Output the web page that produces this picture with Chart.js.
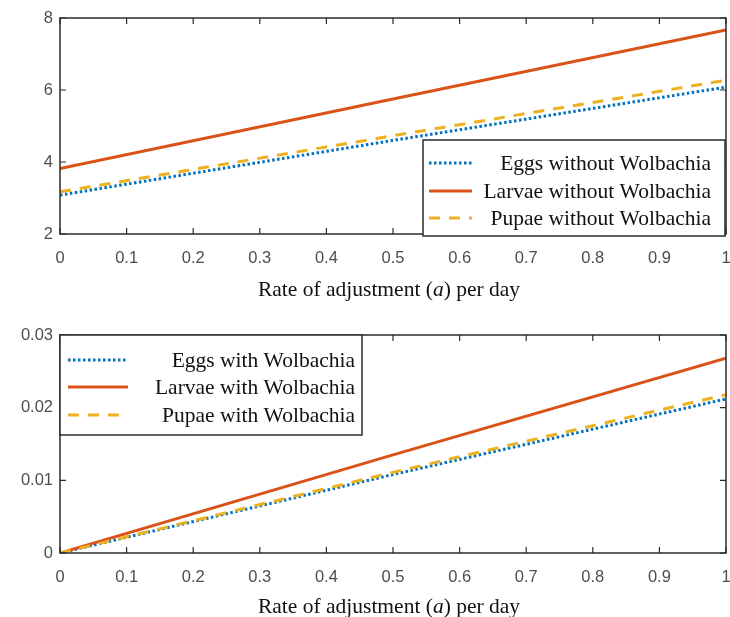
<!DOCTYPE html>
<html>
<head>
<meta charset="utf-8">
<script src="https://cdn.jsdelivr.net/npm/chart.js@4/dist/chart.umd.min.js"></script>
<style>
  html, body { margin: 0; padding: 0; background: #fff; }
  #wrap { position: relative; width: 730px; height: 617px; overflow: hidden; }
  canvas { position: absolute; left: 0; }
</style>
</head>
<body>
<div id="wrap">
  <canvas id="top" width="730" height="310" style="top:0"></canvas>
  <canvas id="bot" width="730" height="307" style="top:310px"></canvas>
</div>
<script>
// x positions (rate of adjustment a)
const rate = [0, 0.5, 1];

// top panel: without Wolbachia
const eggsNo = [3.08, 4.6, 6.08];
const larvaeNo = [3.82, 5.75, 7.67];
const pupaeNo = [3.17, 4.73, 6.27];

// bottom panel: with Wolbachia
const eggsW = [0, 0.0108, 0.0212];
const larvaeW = [0, 0.0135, 0.0268];
const pupaeW = [0, 0.0111, 0.0218];

const namesNo = ["Eggs without Wolbachia", "Larvae without Wolbachia", "Pupae without Wolbachia"];
const namesW = ["Eggs with Wolbachia", "Larvae with Wolbachia", "Pupae with Wolbachia"];

const xTicks = [0, 0.1, 0.2, 0.3, 0.4, 0.5, 0.6, 0.7, 0.8, 0.9, 1];
const yTicksTop = [2, 4, 6, 8];
const yTicksBot = [0, 0.01, 0.02, 0.03];

const C = { blue: "#0072BD", orange: "#D95319", yellow: "#EDB120", axis: "#2b2b2b", tick: "#4d4d4d" };
const styles = [
  { color: C.blue, dash: [2.5, 2.5], w: 3 },
  { color: C.orange, dash: [], w: 3 },
  { color: C.yellow, dash: [11, 9], w: 3 },
];
const fmt = (v) => String(+(+v).toFixed(3));
const serif = '"Liberation Serif", "Times New Roman", serif';
const sans = '"Liberation Sans", Arial, sans-serif';

// frame, inward ticks, legend box and axis title, MATLAB style
const matlab = {
  id: "matlab",
  afterDatasetsDraw(chart, args, o) {
    const { ctx, chartArea: a, scales } = chart;
    ctx.save();
    ctx.strokeStyle = C.axis;
    ctx.lineWidth = 1.5;
    ctx.setLineDash([]);
    ctx.strokeRect(a.left, a.top, a.right - a.left, a.bottom - a.top);
    ctx.lineWidth = 1.2;
    xTicks.forEach((t) => {
      const px = scales.x.getPixelForValue(t);
      ctx.beginPath();
      ctx.moveTo(px, a.bottom); ctx.lineTo(px, a.bottom - 6);
      ctx.moveTo(px, a.top); ctx.lineTo(px, a.top + 6);
      ctx.stroke();
    });
    o.yTicks.forEach((t) => {
      const py = scales.y.getPixelForValue(t);
      ctx.beginPath();
      ctx.moveTo(a.left, py); ctx.lineTo(a.left + 6, py);
      ctx.moveTo(a.right, py); ctx.lineTo(a.right - 6, py);
      ctx.stroke();
    });

    // legend
    const L = o.legend;
    ctx.fillStyle = "#fff";
    ctx.fillRect(L.x, L.y, L.w, L.h);
    ctx.lineWidth = 1.5;
    ctx.strokeStyle = C.axis;
    ctx.strokeRect(L.x, L.y, L.w, L.h);
    ctx.font = "21.5px " + serif;
    ctx.textAlign = "right";
    ctx.textBaseline = "middle";
    o.names.forEach((nm, i) => {
      const s = styles[i];
      const y = L.rows[i];
      ctx.strokeStyle = s.color;
      ctx.lineWidth = s.w;
      ctx.setLineDash(s.dash);
      ctx.beginPath();
      ctx.moveTo(L.s0, y); ctx.lineTo(L.s1, y);
      ctx.stroke();
      ctx.setLineDash([]);
      ctx.fillStyle = "#111";
      ctx.fillText(nm, L.tx, y + 1);
    });

    // x axis title with italic a
    const parts = [["Rate of adjustment (", "21.5px " + serif], ["a", "italic 21.5px " + serif], [") per day", "21.5px " + serif]];
    let total = 0;
    parts.forEach(([t, f]) => { ctx.font = f; total += ctx.measureText(t).width; });
    let x = o.titleX - total / 2;
    ctx.textAlign = "left";
    ctx.fillStyle = "#111";
    parts.forEach(([t, f]) => {
      ctx.font = f;
      ctx.fillText(t, x, o.titleY);
      x += ctx.measureText(t).width;
    });
    ctx.restore();
  },
};

function makeChart(el, series, names, yMin, yMax, yTicks, pad, xh, legend, titleY) {
  return new Chart(el, {
    type: "line",
    data: {
      datasets: series.map((d, i) => ({
        label: names[i],
        data: d.map((v, j) => ({ x: rate[j], y: v })),
        borderColor: styles[i].color,
        borderWidth: styles[i].w,
        borderDash: styles[i].dash,
        pointRadius: 0,
        tension: 0,
        fill: false,
        order: 3 - i,
      })),
    },
    options: {
      responsive: false,
      animation: false,
      layout: { padding: pad },
      plugins: {
        legend: { display: false },
        tooltip: { enabled: false },
        matlab: { yTicks, names, legend, titleY, titleX: 389 },
      },
      scales: {
        x: {
          type: "linear", min: 0, max: 1,
          grid: { display: false }, border: { display: false },
          afterFit: (s) => { s.height = xh; s.paddingLeft = 0; s.paddingRight = 0; },
          afterBuildTicks: (s) => { s.ticks = xTicks.map((v) => ({ value: v })); },
          ticks: { callback: fmt, color: C.tick, font: { family: sans, size: 16.5 }, padding: 7, maxRotation: 0, autoSkip: false },
        },
        y: {
          type: "linear", min: yMin, max: yMax,
          grid: { display: false, drawTicks: false }, border: { display: false },
          afterFit: (s) => { s.width = 60; s.paddingTop = 0; s.paddingBottom = 0; },
          afterBuildTicks: (s) => { s.ticks = yTicks.map((v) => ({ value: v })); },
          ticks: { callback: fmt, color: C.tick, font: { family: sans, size: 16.5 }, padding: 7, autoSkip: false },
        },
      },
    },
    plugins: [matlab],
  });
}

makeChart(document.getElementById("top"), [eggsNo, larvaeNo, pupaeNo], namesNo, 2, 8, yTicksTop,
  { top: 18, right: 4, left: 0, bottom: 0 }, 76,
  { x: 423, y: 140, w: 302, h: 96, rows: [163, 191, 218], s0: 429, s1: 472, tx: 711 }, 290);

makeChart(document.getElementById("bot"), [eggsW, larvaeW, pupaeW], namesW, 0, 0.03, yTicksBot,
  { top: 25, right: 4, left: 0, bottom: 0 }, 64,
  { x: 60, y: 25, w: 302, h: 100, rows: [50, 77, 105], s0: 68, s1: 128, tx: 355 }, 297);
</script>
</body>
</html>
